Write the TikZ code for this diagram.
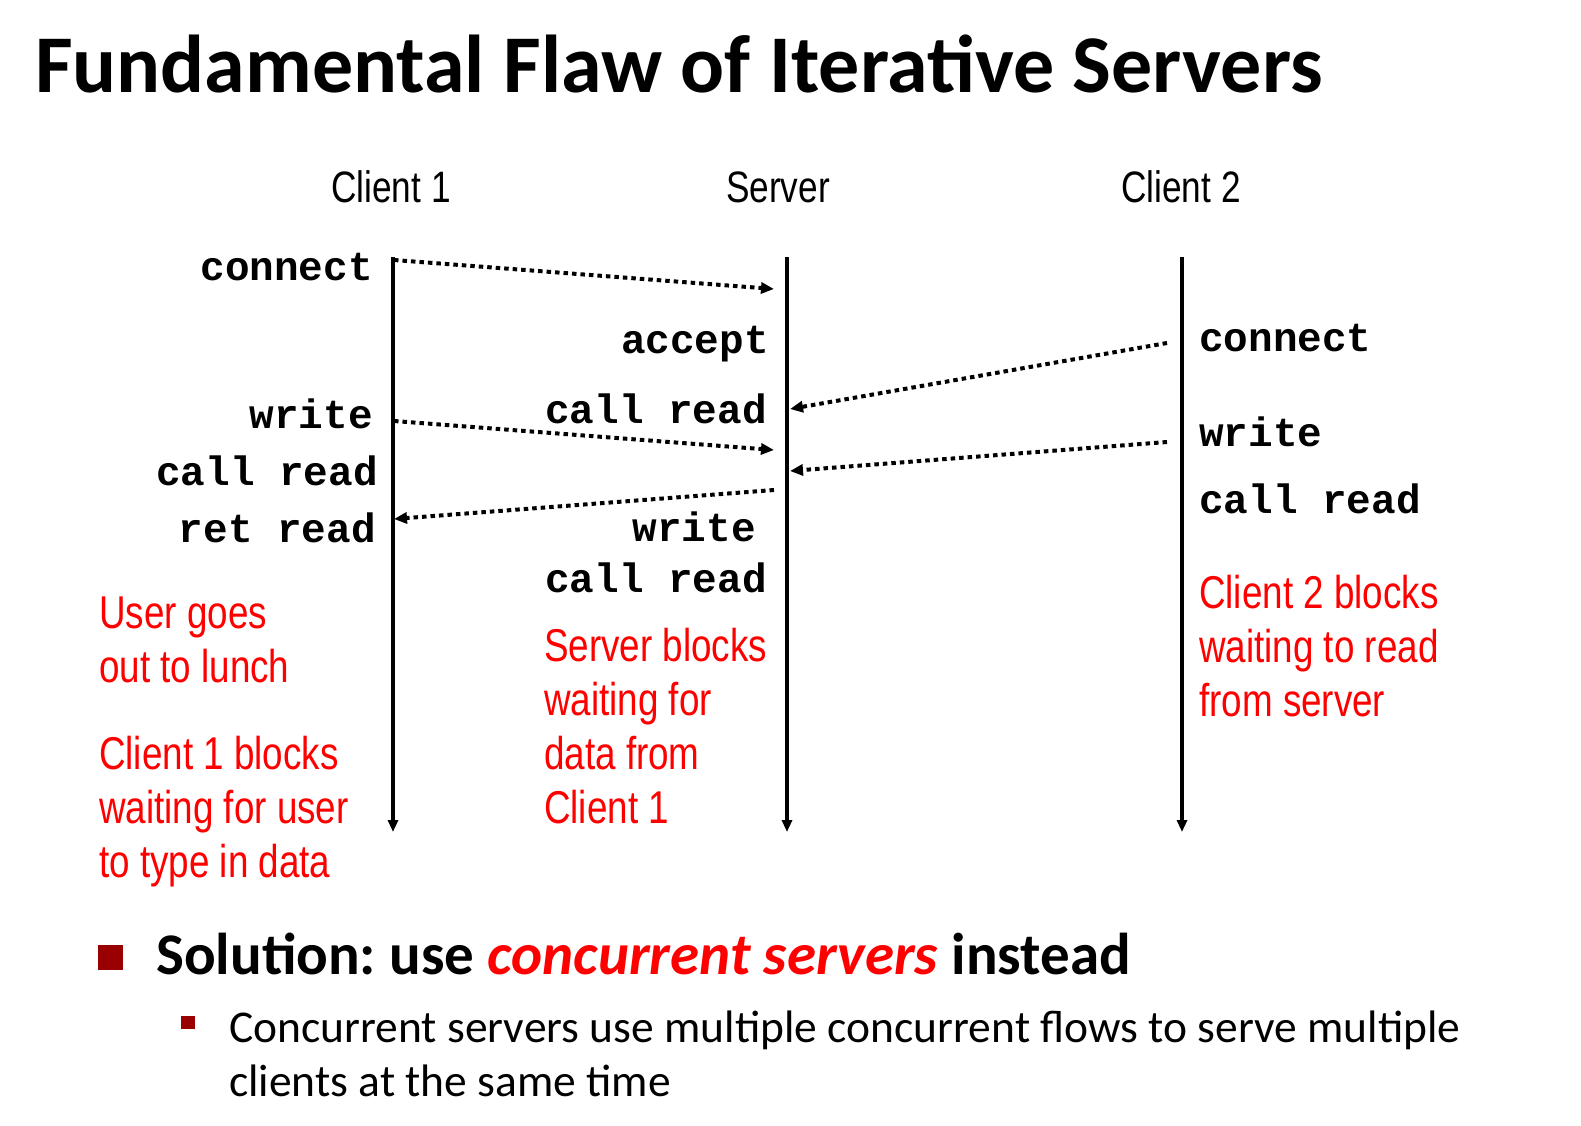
\documentclass[tikz,border=0pt]{standalone}
\usepackage{fontspec}
\setmainfont{Carlito}
\newfontfamily\narrowfont[FakeStretch=0.8]{Liberation Sans}
\newfontfamily\codefont{Liberation Mono}
\usetikzlibrary{arrows.meta}
\definecolor{bulletred}{RGB}{153,0,0}
\definecolor{notered}{RGB}{255,0,0}
\frenchspacing
\tikzset{
  lifeline/.style={line width=3.5pt,-{Triangle[length=12pt,width=10pt]}},
  msg/.style={line width=4pt,dash pattern=on 4.5pt off 4pt,-{Triangle[length=13pt,width=11pt]}},
  call/.style={inner sep=0pt,font=\codefont\bfseries\fontsize{41}{41}\selectfont},
  head/.style={inner sep=0pt,anchor=base,font=\narrowfont\fontsize{44}{50}\selectfont},
  note/.style={inner sep=0pt,anchor=base west,text=notered,font=\narrowfont\fontsize{46}{54}\selectfont},
}
\begin{document}
\begin{tikzpicture}[x=1pt,y=-1pt]
\useasboundingbox (0,0) rectangle (1581,1126);
\fill[white] (0,0) rectangle (1581,1126);

% title
\node[inner sep=0pt,anchor=base west,font=\bfseries\fontsize{82}{90}\selectfont] (title) at (35,93) {Fundamental Flaw of Iterative Servers};

% column heads
\node[head] (h1) at (391,203) {Client 1};
\node[head] (h2) at (778,203) {Server};
\node[head] (h3) at (1181,203) {Client 2};

% time lines
\coordinate (c1top) at (393,257);
\coordinate (c1bot) at (393,832);
\coordinate (stop) at (787,257);
\coordinate (sbot) at (787,832);
\coordinate (c2top) at (1182,257);
\coordinate (c2bot) at (1182,832);
\draw[lifeline] (c1top) -- (c1bot);
\draw[lifeline] (stop) -- (sbot);
\draw[lifeline] (c2top) -- (c2bot);

% client 1 calls
\node[call,anchor=base east] (c1connect) at (373,280) {connect};
\node[call,anchor=base east] (c1write) at (373,428) {write};
\node[call,anchor=base east] (c1read) at (378,485) {call read};
\node[call,anchor=base east] (c1ret) at (376,542) {ret read};

% server calls
\node[call,anchor=base east] (saccept) at (769,353) {accept};
\node[call,anchor=base east] (sread1) at (767,423) {call read};
\node[call,anchor=base east] (swrite) at (756,541) {write};
\node[call,anchor=base east] (sread2) at (767,592) {call read};

% client 2 calls
\node[call,anchor=base west] (c2connect) at (1199,351) {connect};
\node[call,anchor=base west] (c2write) at (1199,446) {write};
\node[call,anchor=base west] (c2read) at (1199,513) {call read};

% message end points on the time lines
\coordinate (m1a) at (394,260);  \coordinate (m1b) at (774,289);
\coordinate (m2a) at (394,421);  \coordinate (m2b) at (774,450);
\coordinate (m3a) at (1167,343); \coordinate (m3b) at (790,409);
\coordinate (m4a) at (1167,442); \coordinate (m4b) at (790,471);
\coordinate (m5a) at (774,490);  \coordinate (m5b) at (394,519);
\draw[msg] (m1a) -- (m1b);
\draw[msg] (m2a) -- (m2b);
\draw[msg] (m3a) -- (m3b);
\draw[msg] (m4a) -- (m4b);
\draw[msg] (m5a) -- (m5b);

% notes
\node[note] (n1a) at (99,628) {User goes};
\node[note] (n1b) at (99,682) {out to lunch};
\node[note] (n2a) at (99,769) {Client 1 blocks};
\node[note] (n2b) at (99,823) {waiting for user};
\node[note] (n2c) at (99,877) {to type in data};
\node[note] (n3a) at (544,661) {Server blocks};
\node[note] (n3b) at (544,715) {waiting for};
\node[note] (n3c) at (544,769) {data from};
\node[note] (n3d) at (544,823) {Client 1};
\node[note] (n4a) at (1199,608) {Client 2 blocks};
\node[note] (n4b) at (1199,662) {waiting to read};
\node[note] (n4c) at (1199,716) {from server};

% bullets
\fill[bulletred] (98,945) rectangle (123,970);
\node[inner sep=0pt,anchor=base west,font=\bfseries\fontsize{59}{66}\selectfont] (sol) at (156,974)
  {Solution: use \textcolor{notered}{\itshape concurrent servers} instead};
\fill[bulletred] (181,1016) rectangle (195,1029);
\node[inner sep=0pt,anchor=base west,font=\fontsize{45.5}{54}\selectfont] (sub1) at (229,1042)
  {Concurrent servers use multiple concurrent flows to serve multiple};
\node[inner sep=0pt,anchor=base west,font=\fontsize{45.5}{54}\selectfont] (sub2) at (229,1096)
  {clients at the same time};
\end{tikzpicture}
\end{document}
